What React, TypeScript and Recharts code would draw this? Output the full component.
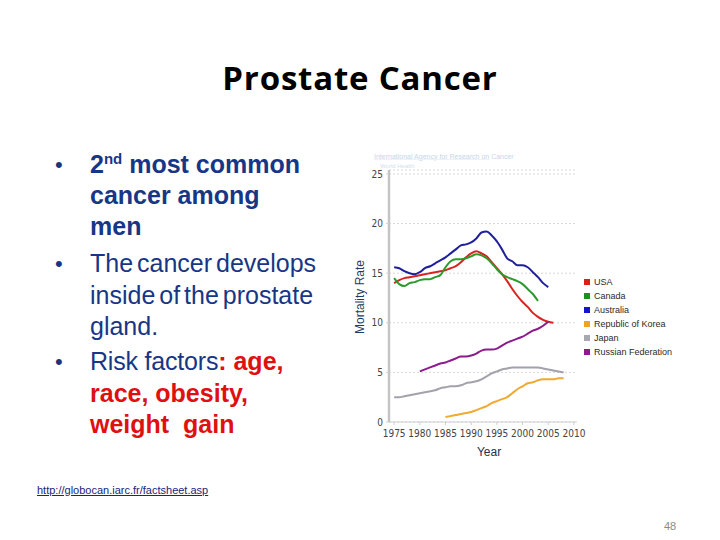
import React from 'react';
import { LineChart, Line, XAxis, YAxis, CartesianGrid } from 'recharts';

// Prostate cancer mortality rate by country
const years = Array.from({ length: 34 }, (_, i) => 1975 + i);

const usa = [
  14.0, 14.3, 14.5, 14.6, 14.7, 14.8, 14.9, 15.0, 15.1, 15.2, 15.3, 15.5, 15.7, 16.1, 16.6, 17.0,
  17.2, 17.0, 16.7, 16.1, 15.5, 14.9, 14.2, 13.4, 12.7, 12.1, 11.6, 11.0, 10.6, 10.3, 10.1, 10.0
]; // 1975-2006
const canada = [
  14.5, 13.9, 13.7, 14.0, 14.1, 14.3, 14.4, 14.4, 14.6, 14.8, 15.6, 16.2, 16.4, 16.4, 16.5, 16.7,
  16.9, 16.8, 16.5, 16.0, 15.4, 14.9, 14.6, 14.4, 14.2, 13.9, 13.4, 12.9, 12.2
]; // 1975-2003
const australia = [
  15.6, 15.5, 15.2, 15.0, 14.9, 15.1, 15.5, 15.7, 16.0, 16.3, 16.6, 17.0, 17.4, 17.8, 17.9, 18.1,
  18.5, 19.1, 19.2, 18.8, 18.2, 17.4, 16.5, 16.2, 15.8, 15.8, 15.6, 15.1, 14.6, 14.0, 13.6
]; // 1975-2005
const korea = [
  0.5, 0.6, 0.7, 0.8, 0.9, 1.0, 1.2, 1.4, 1.6, 1.9, 2.1, 2.3, 2.5, 2.9, 3.3, 3.6, 3.9, 4.0, 4.2,
  4.3, 4.3, 4.3, 4.4, 4.4
]; // 1985-2008
const japan = [
  2.5, 2.5, 2.6, 2.7, 2.8, 2.9, 3.0, 3.1, 3.2, 3.4, 3.5, 3.6, 3.6, 3.7, 3.9, 4.0, 4.1, 4.3, 4.6,
  4.9, 5.1, 5.3, 5.4, 5.5, 5.5, 5.5, 5.5, 5.5, 5.5, 5.4, 5.3, 5.2, 5.1, 5.0
]; // 1975-2008
const russia = [
  5.1, 5.3, 5.5, 5.7, 5.9, 6.0, 6.2, 6.4, 6.6, 6.6, 6.7, 6.9, 7.2, 7.3, 7.3, 7.4, 7.7, 8.0, 8.2,
  8.4, 8.6, 8.9, 9.2, 9.4, 9.7, 10.1
]; // 1980-2005

const xTicks = [1975, 1980, 1985, 1990, 1995, 2000, 2005, 2010];
const yTicks = [0, 5, 10, 15, 20, 25];

const series = [
  { key: 'usa', name: 'USA', values: usa, start: 1975, color: '#d8231f', swatch: '#d91e1e' },
  { key: 'canada', name: 'Canada', values: canada, start: 1975, color: '#2c9a2c', swatch: '#1f8f1f' },
  { key: 'australia', name: 'Australia', values: australia, start: 1975, color: '#1f1f9c', swatch: '#1414d0' },
  { key: 'korea', name: 'Republic of Korea', values: korea, start: 1985, color: '#f0aa32', swatch: '#f0a222' },
  { key: 'japan', name: 'Japan', values: japan, start: 1975, color: '#a2a2aa', swatch: '#a8a8b0' },
  { key: 'russia', name: 'Russian Federation', values: russia, start: 1980, color: '#8c1c8c', swatch: '#8b1a8b' }
];

const data = years.map((year) => {
  const row: Record<string, number | null> = { year };
  series.forEach((s) => {
    const v = s.values[year - s.start];
    row[s.key] = v === undefined ? null : v;
  });
  return row;
});

const navy = '#173686';
const red = '#e01010';
const tickFont = { fill: '#444', fontSize: 10, fontFamily: '"DejaVu Sans Condensed", "Liberation Sans", sans-serif' };

export default function App() {
  return (
    <div
      style={{
        position: 'absolute',
        left: 0,
        top: 0,
        width: 720,
        height: 540,
        background: '#fff',
        fontFamily: '"Liberation Sans", Arial, sans-serif',
        overflow: 'hidden'
      }}
    >
      {/* Title */}
      <div
        style={{
          position: 'absolute',
          left: 0,
          top: 63,
          width: 720,
          textAlign: 'center',
          fontFamily: '"Open Sans", sans-serif',
          fontWeight: 700,
          fontSize: 33,
          letterSpacing: 0.8,
          lineHeight: '30px',
          color: '#000'
        }}
      >
        Prostate Cancer
      </div>

      {/* Bullets */}
      <div style={{ position: 'absolute', left: 0, top: 149, fontSize: 25, lineHeight: '31px' }}>
        <span style={{ position: 'absolute', left: 55, fontSize: 22, color: navy }}>•</span>
        <div style={{ position: 'absolute', left: 90, width: 260, fontWeight: 700, color: navy, whiteSpace: 'nowrap' }}>
          2<sup style={{ fontSize: 15, lineHeight: 0 }}>nd</sup> most common<br />cancer among<br />men
        </div>
      </div>
      <div style={{ position: 'absolute', left: 0, top: 248, fontSize: 25, lineHeight: '31.5px' }}>
        <span style={{ position: 'absolute', left: 55, fontSize: 22, color: navy }}>•</span>
        <div style={{ position: 'absolute', left: 90, width: 260, color: navy, whiteSpace: 'nowrap', letterSpacing: 0, wordSpacing: -3 }}>
          The cancer develops<br />inside of the prostate<br />gland.
        </div>
      </div>
      <div style={{ position: 'absolute', left: 0, top: 346, fontSize: 25, lineHeight: '31.5px' }}>
        <span style={{ position: 'absolute', left: 55, fontSize: 22, color: navy }}>•</span>
        <div style={{ position: 'absolute', left: 90, width: 260, whiteSpace: 'nowrap' }}>
          <span style={{ color: navy, letterSpacing: -0.2 }}>Risk factors</span>
          <span style={{ color: red, fontWeight: 700 }}>: age,</span>
          <br />
          <span style={{ color: red, fontWeight: 700 }}>race, obesity,</span>
          <br />
          <span style={{ color: red, fontWeight: 700 }}>weight&nbsp; gain</span>
        </div>
      </div>

      {/* Faint source header over the chart */}
      <div style={{ position: 'absolute', left: 374, top: 153, fontSize: 7, color: '#c6d6ea', whiteSpace: 'nowrap' }}>
        International Agency for Research on Cancer
      </div>
      <div style={{ position: 'absolute', left: 374, top: 159, width: 115, borderTop: '1px solid #eef2f8' }} />
      <div style={{ position: 'absolute', left: 380, top: 163, fontSize: 6, color: '#d4def0', whiteSpace: 'nowrap' }}>
        World Health
      </div>

      {/* Chart */}
      <div style={{ position: 'absolute', left: 340, top: 140 }}>
        <LineChart
          width={350}
          height={320}
          data={data}
          margin={{ top: 30, right: 113, bottom: 0, left: 0 }}
        >
          <CartesianGrid vertical={false} stroke="#d8d8d8" strokeDasharray="2 2" />
          <XAxis
            dataKey="year"
            type="number"
            domain={[1974, 2010.6]}
            ticks={xTicks}
            interval={0}
            allowDataOverflow
            height={38}
            tickSize={3}
            tickMargin={5}
            axisLine={{ stroke: '#cfcfcf' }}
            tickLine={{ stroke: '#cfcfcf' }}
            tick={tickFont}
          />
          <YAxis
            type="number"
            domain={[0, 25.4]}
            ticks={yTicks}
            interval={0}
            allowDataOverflow
            width={49}
            tickSize={3}
            tickMargin={3}
            axisLine={{ stroke: '#c4c4c4', strokeWidth: 2.5 }}
            tickLine={{ stroke: '#d0d0d0' }}
            tick={tickFont}
          />
          {series.map((s) => (
            <Line
              key={s.key}
              dataKey={s.key}
              name={s.name}
              type="monotone"
              stroke={s.color}
              strokeWidth={2}
              dot={false}
              activeDot={false}
              isAnimationActive={false}
            />
          ))}
        </LineChart>
      </div>

      {/* Axis titles */}
      <div
        style={{
          position: 'absolute',
          left: 360,
          top: 297,
          fontSize: 12,
          color: '#1f3a66',
          whiteSpace: 'nowrap',
          transform: 'translate(-50%, -50%) rotate(-90deg)'
        }}
      >
        Mortality Rate
      </div>
      <div style={{ position: 'absolute', left: 469, top: 445, width: 40, textAlign: 'center', fontSize: 12, color: '#1f3050' }}>
        Year
      </div>

      {/* Legend */}
      <div style={{ position: 'absolute', left: 584, top: 275 }}>
        {series.map((s) => (
          <div key={s.key} style={{ display: 'flex', alignItems: 'center', height: 14, fontSize: 9, color: '#2a2a2a', whiteSpace: 'nowrap' }}>
            <span style={{ display: 'inline-block', width: 6, height: 6, background: s.swatch, marginRight: 4 }} />
            {s.name}
          </div>
        ))}
      </div>

      {/* Source link */}
      <div
        style={{
          position: 'absolute',
          left: 37,
          top: 484,
          fontSize: 11,
          color: '#22227a',
          textDecoration: 'underline',
          whiteSpace: 'nowrap'
        }}
      >
        http://globocan.iarc.fr/factsheet.asp
      </div>

      {/* Slide number */}
      <div style={{ position: 'absolute', left: 664, top: 520, fontSize: 11, color: '#8a8a8a' }}>48</div>
    </div>
  );
}
